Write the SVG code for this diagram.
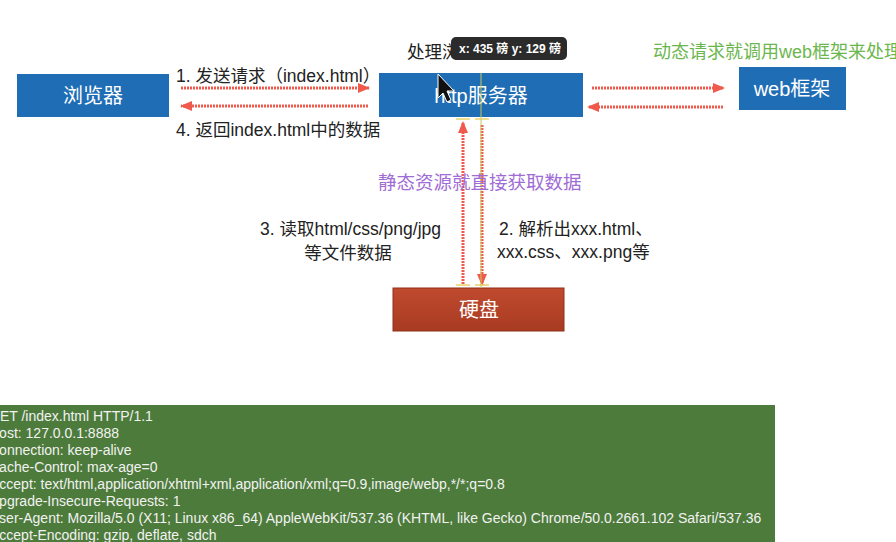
<svg xmlns="http://www.w3.org/2000/svg" width="896" height="542" viewBox="0 0 896 542">
<style>
.box{fill:#1f6db5}
.bt{font-family:"Liberation Sans","Noto Sans CJK SC",sans-serif;font-size:20px;fill:#ffffff;text-anchor:middle}
.lbl{font-family:"Liberation Sans","Noto Sans CJK SC",sans-serif;font-size:17.5px;fill:#222}
.arr{stroke:#ef5a4c;stroke-width:3;fill:none;stroke-dasharray:2 1}
.req{font-family:"Liberation Sans",sans-serif;font-size:14px;fill:#f2f2f2}
.hdl{stroke:#e8d26a;stroke-width:1.5}
</style>
<defs>
<marker id="ah" viewBox="0 0 12 10" refX="11" refY="5" markerWidth="12" markerHeight="10" markerUnits="userSpaceOnUse" orient="auto">
<path d="M0,0 L12,5 L0,10 Z" fill="#ef5a4c"/>
</marker>
<linearGradient id="rg" x1="0" y1="0" x2="0" y2="1">
<stop offset="0" stop-color="#c04a2e"/>
<stop offset="1" stop-color="#a83b22"/>
</linearGradient>
</defs>
<rect width="896" height="542" fill="#ffffff"/>

<g id="panel">
<rect x="0" y="405" width="775" height="137" fill="#4d7b3b"/>
<text class="req" x="-11" y="421">GET /index.html HTTP/1.1</text>
<text class="req" x="-11" y="438">Host: 127.0.0.1:8888</text>
<text class="req" x="-11" y="455">Connection: keep-alive</text>
<text class="req" x="-11" y="472">Cache-Control: max-age=0</text>
<text class="req" x="-10" y="489">Accept: text/html,application/xhtml+xml,application/xml;q=0.9,image/webp,*/*;q=0.8</text>
<text class="req" x="-11" y="506">Upgrade-Insecure-Requests: 1</text>
<text class="req" x="-11" y="523">User-Agent: Mozilla/5.0 (X11; Linux x86_64) AppleWebKit/537.36 (KHTML, like Gecko) Chrome/50.0.2661.102 Safari/537.36</text>
<text class="req" x="-10" y="540">Accept-Encoding: gzip, deflate, sdch</text>
</g>

<g id="connectors">
<line class="arr" x1="181" y1="88" x2="369" y2="88" marker-end="url(#ah)"/>
<line class="arr" x1="368" y1="106" x2="181" y2="106" marker-end="url(#ah)"/>
<line class="arr" x1="592" y1="88" x2="724" y2="88" marker-end="url(#ah)"/>
<line class="arr" x1="723" y1="107" x2="588" y2="107" marker-end="url(#ah)"/>
<line class="arr" x1="463" y1="284" x2="463" y2="122" marker-end="url(#ah)"/>
<line class="arr" x1="482" y1="125" x2="482" y2="285" marker-end="url(#ah)"/>
</g>

<g id="browser">
<rect class="box" x="17" y="74" width="152" height="43"/>
<text class="bt" x="93" y="103">浏览器</text>
</g>
<g id="server">
<rect class="box" x="379" y="73" width="204" height="44"/>
<text class="bt" x="481" y="103">http服务器</text>
</g>
<g id="web">
<rect class="box" x="739" y="67" width="107" height="43"/>
<text class="bt" x="792" y="96">web框架</text>
</g>
<g id="disk">
<rect x="393" y="288" width="171" height="43" fill="url(#rg)" stroke="#8e3018" stroke-width="1"/>
<text class="bt" x="479" y="317">硬盘</text>
</g>

<g id="guides">
<line x1="481" y1="73" x2="481" y2="288" stroke="#c8c85a" stroke-width="1"/>
<line class="hdl" x1="456" y1="119" x2="470" y2="119"/>
<line class="hdl" x1="475" y1="119" x2="489" y2="119"/>
<line class="hdl" x1="456" y1="285" x2="470" y2="285"/>
<line class="hdl" x1="475" y1="285" x2="489" y2="285"/>
</g>

<g id="labels">
<text class="lbl" x="176" y="82" font-size="18">1. 发送请求（index.html）</text>
<text class="lbl" x="176" y="136" font-size="18">4. 返回index.html中的数据</text>
<text class="lbl" x="407" y="58">处理浏览器的请求</text>
<text x="653" y="58" font-family="Liberation Sans,Noto Sans CJK SC,sans-serif" font-size="18" fill="#6cb64e">动态请求就调用web框架来处理</text>
<text x="378" y="189" font-family="Liberation Sans,Noto Sans CJK SC,sans-serif" font-size="18.5" fill="#a06cd5">静态资源就直接获取数据</text>
<text class="lbl" x="441" y="235" text-anchor="end" font-size="18">3. 读取html/css/png/jpg</text>
<text class="lbl" x="348" y="259" text-anchor="middle">等文件数据</text>
<text class="lbl" x="499" y="235">2. 解析出xxx.html、</text>
<text class="lbl" x="497" y="258">xxx.css、xxx.png等</text>
</g>

<g id="tooltip">
<rect x="451" y="37" width="116" height="23" rx="5" fill="#2b2b2b"/>
<text x="459" y="53" font-family="Liberation Sans,Noto Sans CJK SC,sans-serif" font-size="12" font-weight="bold" fill="#ffffff">x: 435 磅  y: 129 磅</text>
</g>
<g id="cursor">
<path d="M438,74 L438,98 L443,93 L447,102 L451,100 L447,91 L454,91 Z" fill="#111" stroke="#fff" stroke-width="1"/>
</g>
</svg>
